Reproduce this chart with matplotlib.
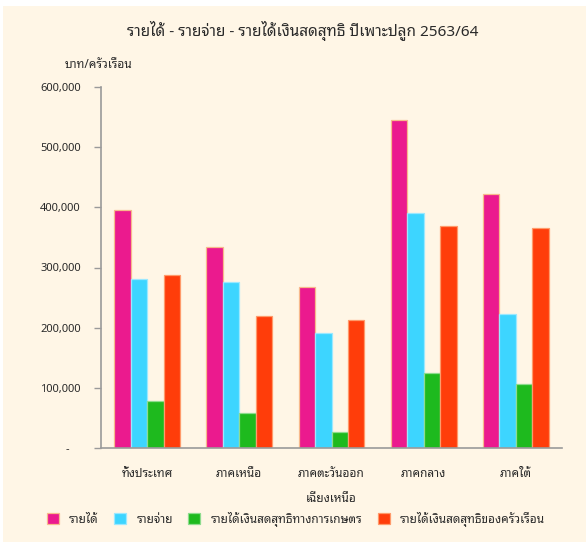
import matplotlib
matplotlib.use("Agg")
import matplotlib.pyplot as plt
from matplotlib.patches import Rectangle
from matplotlib.ticker import FuncFormatter
import numpy as np

FONT = ["Noto Sans Thai Looped", "DejaVu Sans"]
plt.rcParams["font.family"] = FONT

categories = ["ทั้งประเทศ", "ภาคเหนือ", "ภาคตะวันออก\nเฉียงเหนือ", "ภาคกลาง", "ภาคใต้"]
series_names = ["รายได้", "รายจ่าย", "รายได้เงินสดสุทธิทางการเกษตร", "รายได้เงินสดสุทธิของครัวเรือน"]
income = [396000, 333500, 268000, 545000, 422000]
expense = [280500, 275300, 190600, 390000, 222000]
farm_net = [77600, 58200, 27000, 125000, 106000]
household_net = [287500, 220000, 212000, 369000, 366000]
yticks = [0, 100000, 200000, 300000, 400000, 500000, 600000]

colors = ["#EB1A8E", "#3DD5FF", "#1EBA1E", "#FF3D0A"]
edges = ["#F7B98C", "#9BE8FF", "#8EDC8E", "#FF9A6A"]
bg = "#FFF6E6"
txt = "#2A2A2A"
axc = "#9A9A9A"

fig = plt.figure(figsize=(5.86, 5.42), dpi=100, facecolor="white")
fig.patches.append(Rectangle((3 / 586, 0), 1, 1 - 6 / 542, transform=fig.transFigure,
                             facecolor=bg, edgecolor="none", zorder=-10))

ax = fig.add_axes([101 / 586, 1 - 448 / 542, 461 / 586, 361 / 542])
ax.set_facecolor(bg)
ax.patch.set_alpha(0)

x = np.arange(len(categories))
w = 0.178
data = [income, expense, farm_net, household_net]
handles = []
for i, (vals, c, e, name) in enumerate(zip(data, colors, edges, series_names)):
    b = ax.bar(x + (i - 1.5) * w, vals, width=w, color=c, edgecolor=e, linewidth=0.9, label=name)
    handles.append(b)

ax.set_xlim(-0.5, len(categories) - 0.5)
ax.set_ylim(0, 600000)
ax.set_yticks(yticks)
ax.yaxis.set_major_formatter(FuncFormatter(lambda v, p: "-    " if v == 0 else f"{int(v):,}"))
ax.set_xticks(x)
ax.set_xticklabels(categories, linespacing=2.15)

for s in ["top", "right"]:
    ax.spines[s].set_visible(False)
for s in ["left", "bottom"]:
    ax.spines[s].set_color(axc)
    ax.spines[s].set_linewidth(1.2)

ax.tick_params(axis="y", direction="out", length=5, width=1, color=axc, pad=9.5,
               labelsize=8, labelcolor=txt)
ax.tick_params(axis="x", length=0, pad=14, labelsize=8.5, labelcolor=txt)

fig.text(303 / 586, 1 - 31 / 542, "รายได้ - รายจ่าย - รายได้เงินสดสุทธิ ปีเพาะปลูก 2563/64",
         ha="center", va="center", fontsize=11, color=txt)
fig.text(99 / 586, 1 - 65 / 542, "บาท/ครัวเรือน", ha="center", va="center", fontsize=8.5, color=txt)

leg = fig.legend(handles=handles, loc="center left", bbox_to_anchor=(42 / 586, 1 - 519 / 542),
                 ncol=4, frameon=False, fontsize=8.5, handlelength=1.0, handleheight=1.0,
                 handletextpad=0.9, columnspacing=1.3, borderaxespad=0, labelcolor=txt)

fig.savefig("out.png", dpi=100, facecolor="white")
